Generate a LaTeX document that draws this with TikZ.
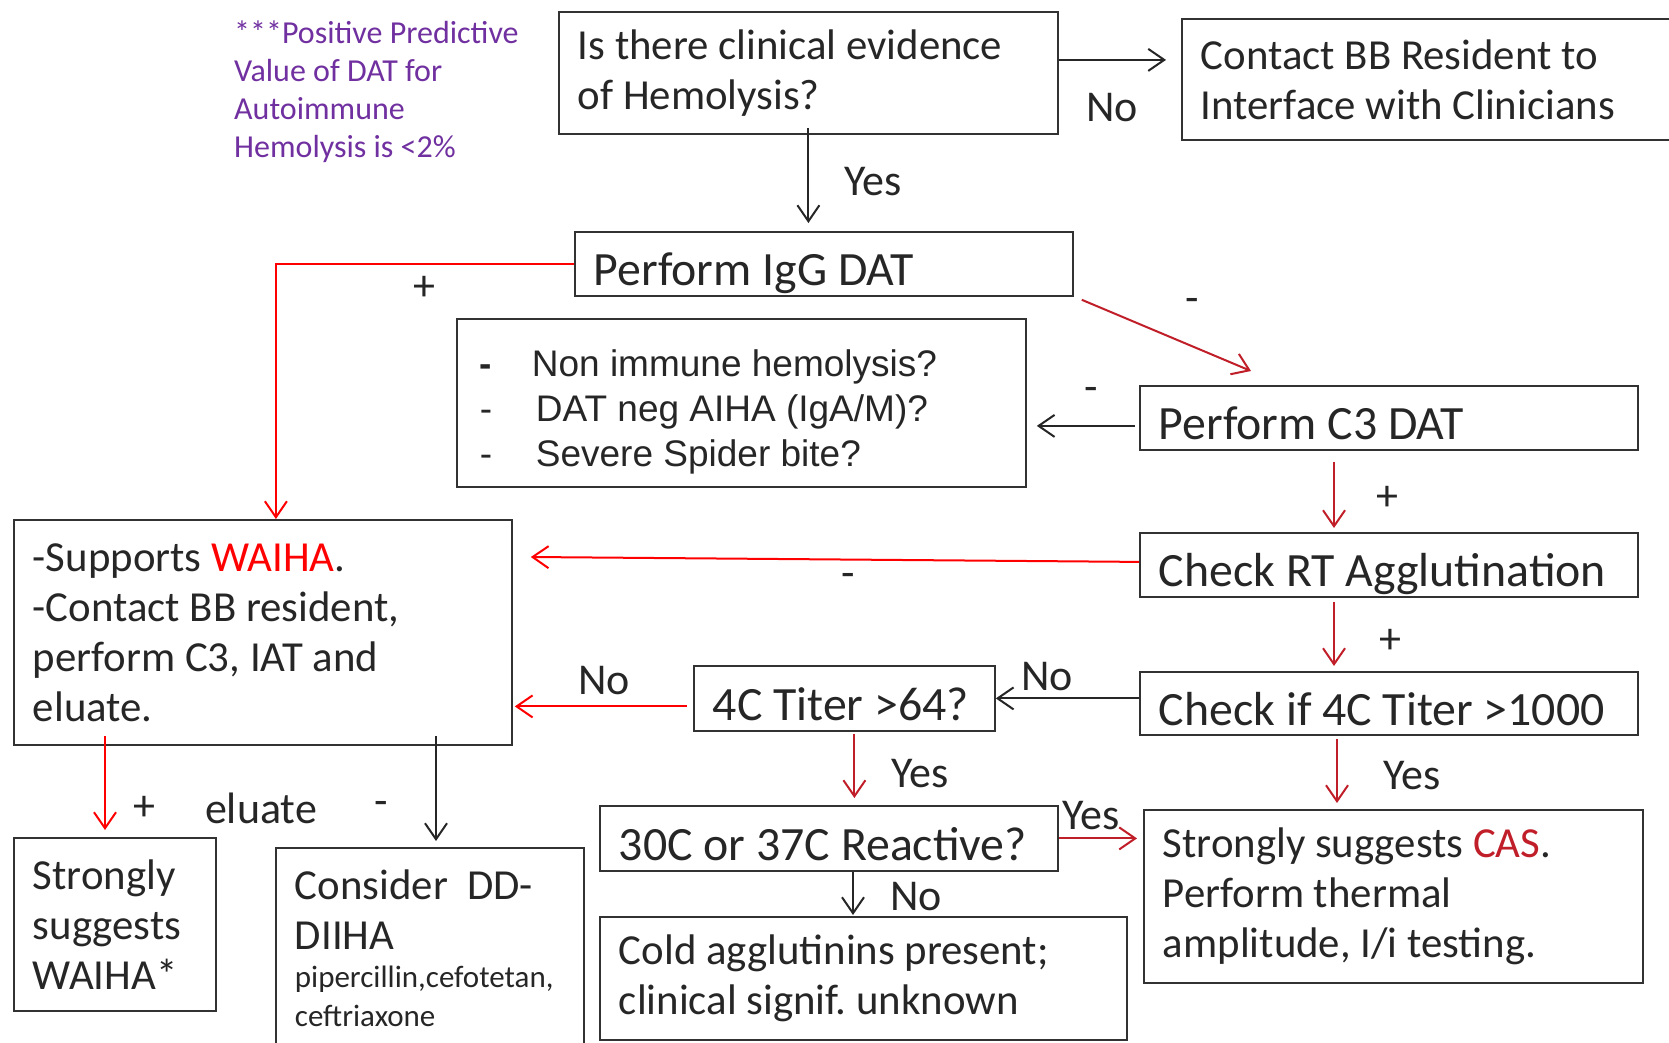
\documentclass[tikz,border=0pt]{standalone}
\usepackage{fontspec}
\setmainfont{Carlito}
\newfontfamily\arialfont{Liberation Sans}
\usetikzlibrary{arrows.meta, calc}

\definecolor{txtgray}{RGB}{38,38,38}
\definecolor{boxgray}{RGB}{50,50,50}
\definecolor{darkred}{RGB}{192,30,40}
\definecolor{notepurple}{RGB}{112,48,160}

\tikzset{
  box/.style={draw=boxgray, line width=1.8pt, anchor=north west, align=flush left,
    inner xsep=19pt, inner ysep=0pt, text=txtgray, font=\fontsize{42.8}{50}\selectfont},
  onerow/.style={font=\fontsize{47.8}{56}\selectfont, text height=44pt, text depth=0pt},
  lbl/.style={text=txtgray, inner sep=0pt, font=\fontsize{44}{50}\selectfont},
  sgn/.style={text=txtgray, inner sep=0pt, font=\fontsize{44}{48}\selectfont},
  arr/.style={draw=txtgray, line width=2pt, -{Straight Barb[length=16pt,width=22pt]}},
  redarr/.style={arr, draw=red},
  darr/.style={arr, draw=darkred},
}

\begin{document}
\begin{tikzpicture}[x=1pt, y=-1pt]
\useasboundingbox (0,0) rectangle (1669,1043);

% note on the predictive value
\node[anchor=north west, inner sep=0pt, align=flush left, text=notepurple,
  font=\fontsize{32}{38}\selectfont] (note) at (234,21)
  {***Positive Predictive\\Value of DAT for\\Autoimmune\\Hemolysis is <2\%};

% boxes
\node[box, text width=461pt, minimum height=122pt] (q) at (558,11) {Is there clinical evidence\\of Hemolysis?};
\node[box, text width=482pt, minimum height=121pt] (contact) at (1181,18) {Contact BB Resident to\\Interface with Clinicians};
\node[box, onerow, text width=460pt, minimum height=64pt] (igg) at (574,231) {Perform IgG DAT};
\node[box, inner xsep=23pt, text width=523pt, minimum height=168pt, text height=44pt,
  font=\arialfont\fontsize{37}{45}\selectfont] (nonimm) at (456,318)
  {\makebox[52pt][l]{\textbf{-}}Non immune hemolysis?\\
   \makebox[56pt][l]{-}DAT neg AIHA (IgA/M)?\\
   \makebox[56pt][l]{-}Severe Spider bite?};
\node[box, onerow, text width=460pt, minimum height=64pt] (c3) at (1139,385) {Perform C3 DAT};
\node[box, text width=460pt, minimum height=225pt] (waiha) at (13,519)
  {-Supports \textcolor{red}{WAIHA}.\\-Contact BB resident,\\perform C3, IAT and\\eluate.};
\node[box, onerow, text width=460pt, minimum height=64pt] (rt) at (1139,532) {Check RT Agglutination};
\node[box, onerow, text width=263pt, minimum height=65pt] (t64) at (693,665) {4C Titer >64?};
\node[box, onerow, text width=460pt, minimum height=63pt] (t1000) at (1139,671) {Check if 4C Titer >1000};
\node[box, text width=164pt, minimum height=173pt] (strongw) at (13,837) {Strongly\\suggests\\WAIHA*};
\node[box, text width=270pt, minimum height=200pt] (dd) at (275,847)
  {Consider\ \ DD-\\DIIHA\\[-12pt]{\fontsize{31}{39}\selectfont pipercillin,cefotetan,}\\[-11pt]{\fontsize{31}{39}\selectfont ceftriaxone}};
\node[box, onerow, text width=420pt, minimum height=65pt] (r30) at (599,805) {30C or 37C Reactive?};
\node[box, text width=489pt, minimum height=123pt] (cold) at (599,916) {Cold agglutinins present;\\clinical signif.\ unknown};
\node[box, text width=461pt, minimum height=173pt] (cas) at (1143,809)
  {Strongly suggests \textcolor{darkred}{CAS}.\\Perform thermal\\amplitude, I/i testing.};

% labels
\node[lbl] (noq) at (1112,108) {No};
\node[lbl] (yesq) at (873,182) {Yes};
\node[sgn] (posigg) at (424,288) {+};
\node[sgn] (negigg) at (1192,305) {-};
\node[sgn] (negc3) at (1091,394) {-};
\node[sgn] (posc3) at (1387,498) {+};
\node[sgn] (negrt) at (848,580) {-};
\node[sgn] (posrt) at (1390,641) {+};
\node[lbl] (no64) at (604,681) {No};
\node[lbl] (no1000) at (1047,677) {No};
\node[lbl] (yes64) at (920,774) {Yes};
\node[lbl] (yes1000) at (1412,776) {Yes};
\node[sgn] (poselu) at (144,808) {+};
\node[lbl] (elu) at (261,808) {eluate};
\node[sgn] (negelu) at (381,808) {-};
\node[lbl] (yes30) at (1091,816) {Yes};
\node[lbl] (no30) at (916,897) {No};

% connectors
\draw[arr] ($(q.east)+(0,-13)$) -- ($(contact.west |- q.east)+(-15,-13)$);
\draw[arr] ($(q.south)+(0,-7)$) -- ($(q.south |- igg.north)+(0,-8)$);
\draw[redarr] (igg.west) -| ($(waiha.north)+(13,0)$);
\draw[darr] ($(igg.south east)+(8,3)$) -- ($(c3.north west)+(112,-14)$);
\draw[arr] ($(c3.west)+(-4,8)$) -- ($(nonimm.east |- c3.west)+(10,8)$);
\draw[darr] ($(c3.south west)+(195,11)$) -- ($(rt.north west)+(195,-4)$);
\draw[redarr] ($(rt.west)+(0,-3)$) -- ($(waiha.north east)+(18,38)$);
\draw[darr] ($(rt.south west)+(195,4)$) -- ($(t1000.north west)+(195,-5)$);
\draw[arr] (t1000.west |- t64.east) -- (t64.east);
\draw[redarr] ($(t64.west)+(-6,8)$) -- ($(waiha.east |- t64.west)+(2,8)$);
\draw[darr] ($(t64.south)+(10,2)$) -- ($(t64.south |- r30.north)+(10,-7)$);
\draw[darr] ($(t1000.south west)+(198,3)$) -- ($(cas.north west)+(194,-6)$);
\draw[darr] (r30.east) -- ($(cas.west |- r30.east)+(-6,0)$);
\draw[arr] ($(r30.south west)+(254,0)$) -- ($(cold.north west)+(254,-1)$);
\draw[redarr] ($(waiha.south west)+(92,-10)$) -- ($(strongw.north west)+(92,-7)$);
\draw[arr] ($(waiha.south west)+(423,-10)$) -- ($(dd.north west)+(161,-6)$);
\end{tikzpicture}
\end{document}
